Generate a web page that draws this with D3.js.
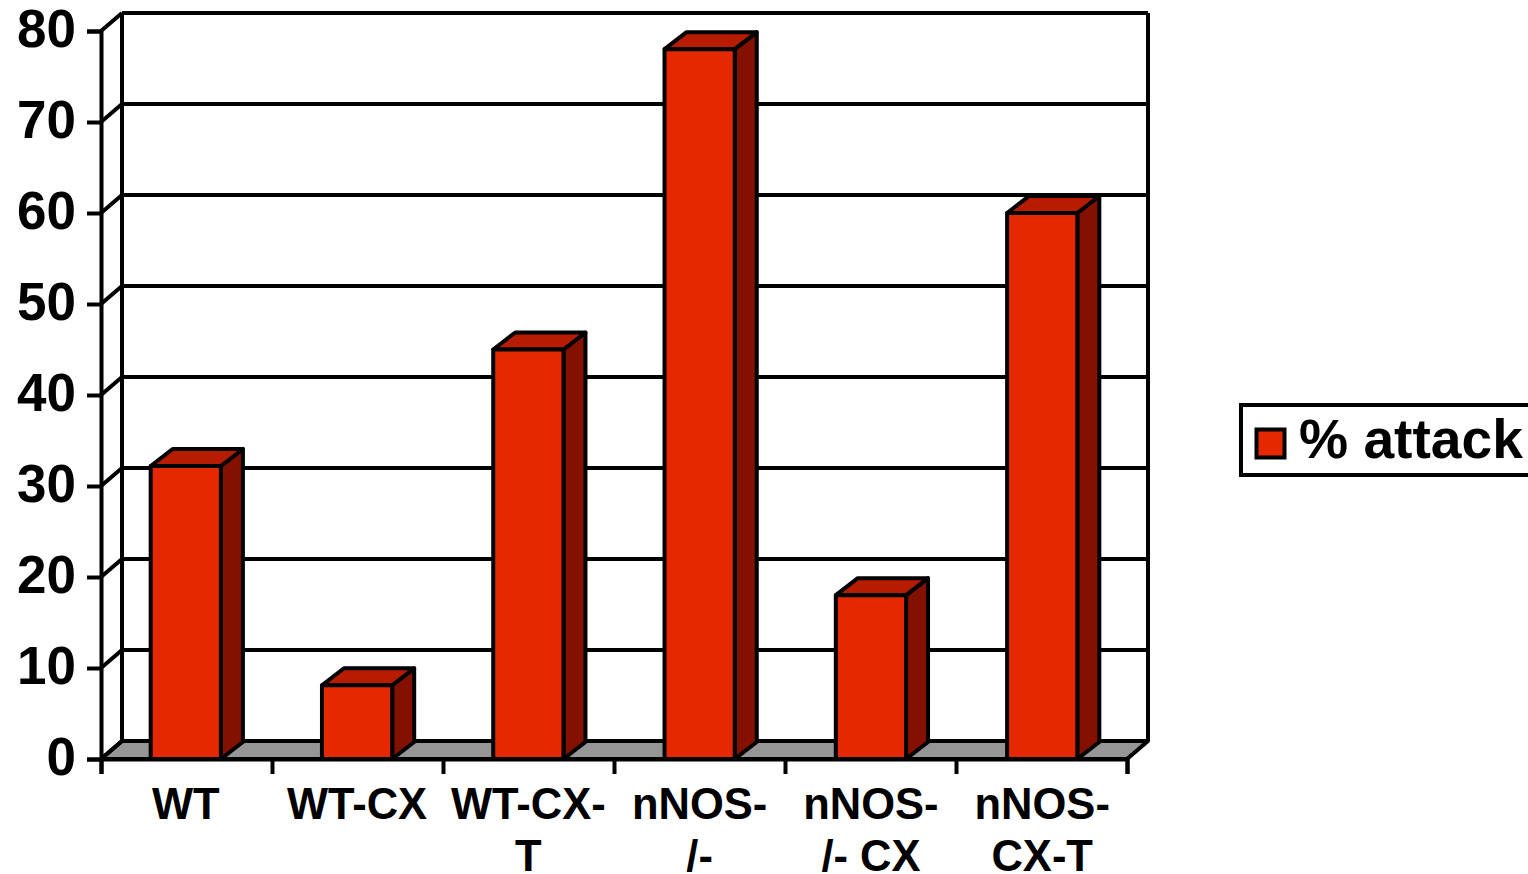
<!DOCTYPE html>
<html>
<head>
<meta charset="utf-8">
<style>
html,body{margin:0;padding:0;background:#fff;overflow:hidden}
svg{display:block}
text{font-family:"Liberation Sans",Arial,sans-serif;font-weight:bold;fill:#000}
</style>
<script src="https://cdn.jsdelivr.net/npm/d3@7"></script>
</head>
<body>
<svg id="chart" width="1528" height="874"></svg>
<script>
const categories = [["WT"],["WT-CX"],["WT-CX-","T"],["nNOS-","/-"],["nNOS-","/- CX"],["nNOS-","CX-T"]];
const attack = [32.2, 8.1, 45, 78, 18, 60];
const yTicks = [0,10,20,30,40,50,60,70,80];
const seriesName = "% attack";

const INK = "#000", FRONT = "#e62800", TOP = "#b81c00", SIDE = "#841000", FLOOR = "#969696";
const SW = 4;
const wall = {dx:21, dy:-18};
const barDepth = {dx:22, dy:-17};

const svg = d3.select("#chart");
const x = d3.scaleBand().domain(d3.range(categories.length)).range([101,1127]).paddingInner(0.59).paddingOuter(0.29);
const y = d3.scaleLinear().domain([0,80]).range([759,31]);
const pts = a => a.map(p => p.join(",")).join(" ");

// Floor and back wall
svg.append("polygon")
  .attr("points", pts([[x.range()[0],y(0)],[x.range()[0]+wall.dx,y(0)+wall.dy],[x.range()[1]+wall.dx,y(0)+wall.dy],[x.range()[1],y(0)]]))
  .attr("fill", FLOOR).attr("stroke", INK).attr("stroke-width", SW).attr("stroke-linejoin","round");

const grid = svg.append("g").attr("fill","none").attr("stroke",INK).attr("stroke-width",SW);
yTicks.slice(1).forEach(t => {
  grid.append("line")
    .attr("x1", x.range()[0]+wall.dx).attr("x2", x.range()[1]+wall.dx)
    .attr("y1", y(t)+wall.dy).attr("y2", y(t)+wall.dy);
});
yTicks.forEach(t => {
  grid.append("line")
    .attr("x1", x.range()[0]).attr("x2", x.range()[0]+wall.dx)
    .attr("y1", y(t)).attr("y2", y(t)+wall.dy);
});
grid.append("line").attr("x1",x.range()[0]+wall.dx).attr("x2",x.range()[0]+wall.dx).attr("y1",y(0)+wall.dy).attr("y2",y(80)+wall.dy);
grid.append("line").attr("x1",x.range()[1]+wall.dx).attr("x2",x.range()[1]+wall.dx).attr("y1",y(0)+wall.dy).attr("y2",y(80)+wall.dy);

// Axes
const yAxis = svg.append("g").attr("transform",`translate(${x.range()[0]},0)`)
  .call(d3.axisLeft(y).tickValues(yTicks).tickSize(14).tickPadding(10));
yAxis.select(".domain").attr("stroke",INK).attr("stroke-width",SW);
yAxis.selectAll(".tick line").attr("stroke",INK).attr("stroke-width",SW);
yAxis.selectAll("text").attr("font-size",53).attr("dy","0.32em").attr("dx",-1).style("fill","#000")
  .attr("transform","translate(0,-1)");

const xAxisScale = d3.scaleLinear().domain([0,categories.length]).range(x.range());
const xAxis = svg.append("g").attr("transform",`translate(0,${y(0)})`)
  .call(d3.axisBottom(xAxisScale).tickValues(d3.range(categories.length+1)).tickSize(15).tickFormat(""));
xAxis.select(".domain").attr("stroke",INK).attr("stroke-width",SW);
xAxis.selectAll(".tick line").attr("stroke",INK).attr("stroke-width",SW);

// Bars: side, top, then front face
const bars = svg.append("g").selectAll("g").data(attack).join("g")
  .attr("stroke",INK).attr("stroke-width",SW).attr("stroke-linejoin","round");
bars.append("polygon").attr("fill",SIDE).attr("points",(d,i)=>{
  const r=x(i)+x.bandwidth();
  return pts([[r,y(d)],[r+barDepth.dx,y(d)+barDepth.dy],[r+barDepth.dx,y(0)+barDepth.dy],[r,y(0)]]);
});
bars.append("polygon").attr("fill",TOP).attr("points",(d,i)=>{
  const l=x(i), r=l+x.bandwidth();
  return pts([[l,y(d)],[l+barDepth.dx,y(d)+barDepth.dy],[r+barDepth.dx,y(d)+barDepth.dy],[r,y(d)]]);
});
bars.append("rect").attr("fill",FRONT)
  .attr("x",(d,i)=>x(i)).attr("width",x.bandwidth())
  .attr("y",d=>y(d)).attr("height",d=>y(0)-y(d));

// Category labels, one or two lines each
const labels = svg.append("g").selectAll("text").data(categories).join("text")
  .attr("text-anchor","middle").attr("font-size",43.5);
labels.each(function(lines,i){
  d3.select(this).selectAll("tspan").data(lines).join("tspan")
    .attr("x",x(i)+x.bandwidth()/2)
    .attr("y",(l,k)=>819+k*52)
    .text(l=>l);
});

// Legend
const legend = svg.append("g");
legend.append("rect").attr("x",1241).attr("y",405).attr("width",320).attr("height",70)
  .attr("fill","#fff").attr("stroke",INK).attr("stroke-width",SW);
legend.append("rect").attr("x",1256.5).attr("y",429.5).attr("width",28).attr("height",28)
  .attr("fill",FRONT).attr("stroke",INK).attr("stroke-width",SW);
legend.append("text").attr("x",1299).attr("y",458).attr("font-size",55.2).text(seriesName);
</script>
</body>
</html>
